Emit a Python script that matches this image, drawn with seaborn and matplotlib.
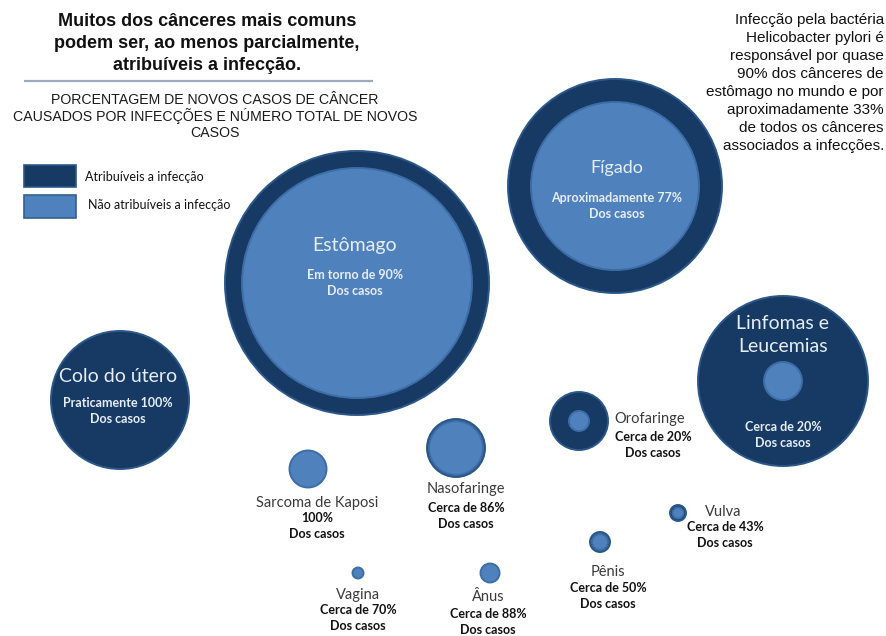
import matplotlib
matplotlib.use("Agg")
import matplotlib.pyplot as plt
from matplotlib.patches import Rectangle
import pandas as pd
import seaborn as sns

# ---- data -------------------------------------------------------------
cancers = ["Estômago", "Fígado", "Colo do útero", "Linfomas e\nLeucemias",
           "Orofaringe", "Nasofaringe", "Sarcoma de Kaposi", "Vulva",
           "Pênis", "Vagina", "Ânus"]
share_labels = ["Em torno de 90%", "Aproximadamente 77%", "Praticamente 100%",
                "Cerca de 20%", "Cerca de 20%", "Cerca de 86%", "100%",
                "Cerca de 43%", "Cerca de 50%", "Cerca de 70%", "Cerca de 88%"]
# relative bubble magnitudes: whole bubble and inner disc
bubble_total = [132, 107, 69, 85, 29, 29, 0, 8, 10, 0, 0]
bubble_inner = [115, 84, 0, 19, 10, 27, 18.5, 5.5, 8, 5.5, 9.5]

title_lines = ["Muitos dos cânceres mais comuns",
               "podem ser, ao menos parcialmente,",
               "atribuíveis a infecção."]
subtitle_lines = ["PORCENTAGEM DE NOVOS CASOS DE CÂNCER",
                  "CAUSADOS POR INFECÇÕES E NÚMERO TOTAL DE NOVOS",
                  "CASOS"]
legend_labels = ["Atribuíveis a infecção", "Não atribuíveis a infecção"]
note_lines = ["Infecção pela bactéria", "Helicobacter pylori é",
              "responsável por quase", "90% dos cânceres de",
              "estômago no mundo e por", "aproximadamente 33%",
              "de todos os cânceres", "associados a infecções."]

# ---- layout -----------------------------------------------------------
W, H, DPI = 887, 636, 100
center_x = [357, 615, 120, 783, 579, 456, 308, 678, 600, 358, 490]
center_y = [283, 186, 400, 381, 421, 448, 469, 513, 542, 573, 573]
name_xy = [(355, 246), (617, 168), (118, 377), (783, 335), (650, 419),
           (466, 489), (317, 503), (723, 512), (608, 572), (358, 595),
           (488, 597)]
share_xy = [(355, 275), (617, 198), (118, 403), (783, 427), (653, 437),
            (466, 508), (317, 518), (725, 527), (608, 588), (358, 610),
            (488, 614)]
inside = [True, True, True, True, False, False, False, False, False, False, False]
name_size = [14, 13, 14, 14, 10.5, 10.5, 10.5, 10.5, 10.5, 10.5, 10.5]

DARK = "#163a64"
DARK_EDGE = "#2c5889"
LIGHT = "#4f81bd"
LIGHT_EDGE = "#3d6da6"

LABEL_FONT = ["Lato", "DejaVu Sans"]
TEXT_FONT = ["Liberation Sans", "DejaVu Sans"]

sns.set_theme(style="white")
plt.rcParams["font.family"] = LABEL_FONT

df = pd.DataFrame({"cancer": cancers, "x": center_x, "y": center_y,
                   "total": bubble_total, "inner": bubble_inner})


def marker_area(r):
    # radius in pixels -> scatter marker area in points^2
    return (2 * r * 72 / DPI) ** 2


fig = plt.figure(figsize=(W / DPI, H / DPI), dpi=DPI)
ax = fig.add_axes([0, 0, 1, 1])

outer = df[df["total"] > 0]
sns.scatterplot(data=outer, x="x", y="y", s=marker_area(outer["total"]).values,
                color=DARK, edgecolor=DARK_EDGE, linewidth=1.4, ax=ax,
                legend=False, zorder=2)
inner = df[df["inner"] > 0]
sns.scatterplot(data=inner, x="x", y="y", s=marker_area(inner["inner"]).values,
                color=LIGHT, edgecolor=LIGHT_EDGE, linewidth=1.4, ax=ax,
                legend=False, zorder=3)

ax.set_xlim(0, W)
ax.set_ylim(H, 0)
ax.set_aspect("equal")
ax.axis("off")

# bubble labels
for i, name in enumerate(cancers):
    nx, ny = name_xy[i]
    sx, sy = share_xy[i]
    if inside[i]:
        c_name, c_share = "#e6edf5", "#e6edf5"
        lsp = 1.45
    else:
        c_name, c_share = "#3a3a3a", "#111111"
        lsp = 1.2
    ax.text(nx, ny, name, ha="center", va="center", fontsize=name_size[i],
            color=c_name, linespacing=lsp, zorder=5)
    ax.text(sx, sy, share_labels[i], ha="center", va="center", fontsize=9,
            fontweight="bold", color=c_share, zorder=5)
    ax.text(sx, sy + 16, "Dos casos", ha="center", va="center", fontsize=9,
            fontweight="bold", color=c_share, zorder=5)

# title block
for k, line in enumerate(title_lines):
    ax.text(207, 22 + 21.5 * k, line, ha="center", va="center", fontsize=13,
            fontweight="bold", color="#111111", family=TEXT_FONT)
ax.plot([24, 373], [81, 81], color="#9aabb7", lw=1.6, solid_capstyle="butt")
for k, line in enumerate(subtitle_lines):
    ax.text(215, 100 + 16.5 * k, line, ha="center", va="center", fontsize=10.2,
            color="#1a1a1a", family=TEXT_FONT)

# legend
ax.add_patch(Rectangle((24, 165), 52, 22, facecolor=DARK, edgecolor=DARK_EDGE,
                       lw=1.2, zorder=4))
ax.add_patch(Rectangle((24, 195), 52, 23, facecolor=LIGHT, edgecolor="#34608f",
                       lw=1.2, zorder=4))
ax.text(85, 177, legend_labels[0], ha="left", va="center", fontsize=9,
        color="#111111")
ax.text(88, 205, legend_labels[1], ha="left", va="center", fontsize=9,
        color="#111111")

# side note
for k, line in enumerate(note_lines):
    ax.text(884, 20 + 18 * k, line, ha="right", va="center", fontsize=11,
            color="#111111", family=TEXT_FONT)

fig.savefig("out.png", dpi=DPI, facecolor="white")
